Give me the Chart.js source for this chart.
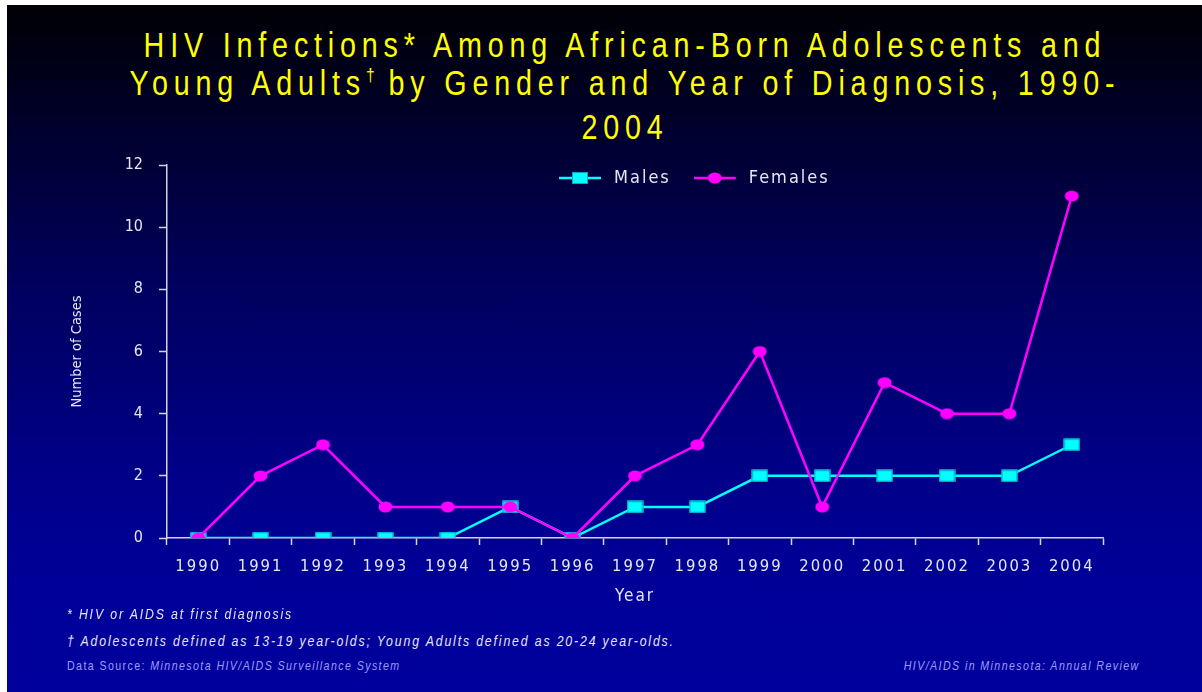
<html>

<head>
    <title>HIV Infections Among African-Born Adolescents and Young Adults</title>
    <script src="https://cdn.jsdelivr.net/npm/chart.js"></script>
    <style>
        body { margin: 0; background: #ffffff; }
        #slide {
            position: absolute; left: 7px; top: 5px; width: 1195px; height: 687px; overflow: hidden;
            background: linear-gradient(to bottom, #000004 0%, #00002c 18%, #000060 42%, #000088 68%, #000099 85%, #00009c 100%);
            font-family: 'Liberation Sans', Arial, sans-serif;
        }
        /* Arial Narrow look: Liberation Sans squeezed to 82% */
        #title {
            position: absolute; left: -32px; top: 21px; width: 1300px; white-space: nowrap;
            text-align: center; color: #ffff00; font-size: 35px; line-height: 38px; letter-spacing: 7.1px;
            transform: scaleX(0.82); transform-origin: 50% 0;
        }
        #title sup { font-size: 55%; vertical-align: 0; position: relative; top: -14px; letter-spacing: 0; }
        #chartBox { position: absolute; left: 0; top: 97px; width: 1195px; height: 518px; }
        .note {
            position: absolute; left: 60px; color: #e6e6f5; font-style: italic; font-size: 15px; line-height: 15px;
            letter-spacing: 2.25px; white-space: nowrap; transform: scaleX(0.82); transform-origin: 0 0;
        }
        .src {
            position: absolute; top: 655px; color: #9c9cff; font-size: 13px; line-height: 12px; letter-spacing: 1.7px;
            white-space: nowrap; transform: scaleX(0.82);
        }
    </style>
</head>

<body>
    <div id="slide">
        <div id="title">HIV Infections* Among African-Born Adolescents and<br>Young Adults<sup>†</sup> by Gender and Year of Diagnosis, 1990-<br>2004</div>
        <div id="chartBox">
            <canvas id="myChart"></canvas>
        </div>
        <div class="note" style="top:601px">* HIV or AIDS at first diagnosis</div>
        <div class="note" style="top:628px">† Adolescents defined as 13-19 year-olds; Young Adults defined as 20-24 year-olds.</div>
        <div class="src" style="left:60px; transform-origin:0 0">Data Source: <i>Minnesota HIV/AIDS Surveillance System</i></div>
        <div class="src" style="right:62px; transform-origin:100% 0"><i>HIV/AIDS in Minnesota: Annual Review</i></div>
    </div>

    <script>
        // data
        const years = ['1990', '1991', '1992', '1993', '1994', '1995', '1996', '1997',
            '1998', '1999', '2000', '2001', '2002', '2003', '2004'];
        const males = [0, 0, 0, 0, 0, 1, 0, 1, 1, 2, 2, 2, 2, 2, 3];
        const females = [0, 2, 3, 1, 1, 1, 0, 2, 3, 6, 1, 5, 4, 4, 11];
        const yTicks = [0, 2, 4, 6, 8, 10, 12];

        const CYAN = '#00ffff';
        const MAGENTA = '#ff00ff';
        const AXIS = '#d4d4e4';
        const TEXT = '#e6e6f2';
        const FONT = "'DejaVu Sans Condensed', 'DejaVu Sans', sans-serif";

        function makeCanvas(w, h, paint) {
            const c = document.createElement('canvas');
            c.width = w;
            c.height = h;
            paint(c.getContext('2d'), w, h);
            return c;
        }

        function paintSquare(ctx, cx, cy) {
            ctx.fillStyle = CYAN;
            ctx.fillRect(cx - 8, cy - 6, 16, 12);
            ctx.strokeStyle = '#00a8b8';
            ctx.lineWidth = 1;
            ctx.strokeRect(cx - 7.5, cy - 5.5, 15, 11);
        }

        function paintEllipse(ctx, cx, cy) {
            ctx.fillStyle = MAGENTA;
            ctx.beginPath();
            ctx.ellipse(cx, cy, 7, 5.5, 0, 0, Math.PI * 2);
            ctx.fill();
        }

        const squareMark = makeCanvas(17, 13, (ctx) => paintSquare(ctx, 8.5, 6.5));
        const ellipseMark = makeCanvas(15, 12, (ctx) => paintEllipse(ctx, 7.5, 6));

        // legend swatches: line with the marker in the middle
        function legendSwatch(color, paint) {
            return makeCanvas(46, 14, (ctx) => {
                ctx.strokeStyle = color;
                ctx.lineWidth = 2.5;
                ctx.beginPath();
                ctx.moveTo(0, 7);
                ctx.lineTo(42, 7);
                ctx.stroke();
                paint(ctx, 21, 7);
            });
        }
        const malesSwatch = legendSwatch(CYAN, paintSquare);
        const femalesSwatch = legendSwatch(MAGENTA, paintEllipse);

        // spaced-out lettering for x labels and legend; y axis (z 1) is drawn after datasets without it
        const spacedText = {
            id: 'spacedText',
            beforeLayout(chart) { chart.ctx.letterSpacing = '2px'; },
            afterLayout(chart) {
                const lg = chart.legend;
                const w = lg.right - lg.left;
                const h = lg.bottom - lg.top;
                lg.left = 529;
                lg.right = 529 + w;
                lg.top = 44;
                lg.bottom = 44 + h;
            },
            beforeDraw(chart) { chart.ctx.letterSpacing = '2px'; },
            beforeDatasetsDraw(chart) { chart.ctx.letterSpacing = '0px'; }
        };

        const data = {
            labels: years,
            datasets: [
                {
                    label: 'Males',
                    data: males,
                    borderColor: CYAN,
                    backgroundColor: CYAN,
                    borderWidth: 2.5,
                    pointStyle: squareMark,
                    pointRadius: 7,
                    order: 1
                },
                {
                    label: 'Females',
                    data: females,
                    borderColor: MAGENTA,
                    backgroundColor: MAGENTA,
                    borderWidth: 2.5,
                    pointStyle: ellipseMark,
                    pointRadius: 7,
                    order: 0
                }
            ]
        };

        const config = {
            type: 'line',
            data: data,
            options: {
                responsive: true,
                maintainAspectRatio: false,
                animation: false,
                layout: { padding: { left: 0, right: 99, top: 12, bottom: 0 } },
                scales: {
                    x: {
                        offset: true,
                        grid: { offset: true, drawOnChartArea: false, drawTicks: true, tickLength: 7, tickColor: AXIS, tickWidth: 1.5 },
                        border: { color: AXIS, width: 1.5 },
                        ticks: { color: TEXT, font: { family: FONT, size: 16.5 }, padding: 12, autoSkip: false, maxRotation: 0 },
                        title: { display: true, text: 'Year', color: TEXT, font: { family: FONT, size: 17 }, padding: { top: 0, bottom: 13 } },
                        afterFit: (scale) => { scale.height = 82; }
                    },
                    y: {
                        min: 0,
                        max: 12,
                        afterBuildTicks: (scale) => { scale.ticks = yTicks.map((v) => ({ value: v })); },
                        grid: { z: 1, drawOnChartArea: false, drawTicks: true, tickLength: 8, tickColor: AXIS, tickWidth: 1.5 },
                        border: { z: 1, color: AXIS, width: 1.5 },
                        ticks: { z: 1, color: TEXT, font: { family: FONT, size: 16 }, padding: 16 },
                        title: { display: true, text: 'Number of Cases', color: TEXT, font: { family: FONT, size: 14.5 }, padding: { top: 62, bottom: 0 } },
                        afterFit: (scale) => { scale.width = 160; }
                    }
                },
                plugins: {
                    title: { display: false },
                    tooltip: { enabled: false },
                    legend: {
                        position: 'top',
                        align: 'start',
                        fullSize: false,
                        labels: {
                            usePointStyle: true,
                            pointStyleWidth: 46,
                            padding: 23,
                            color: TEXT,
                            font: { family: FONT, size: 18 },
                            generateLabels: () => [
                                { text: 'Males', pointStyle: malesSwatch, fontColor: TEXT, lineWidth: 0, hidden: false, datasetIndex: 0 },
                                { text: 'Females', pointStyle: femalesSwatch, fontColor: TEXT, lineWidth: 0, hidden: false, datasetIndex: 1 }
                            ]
                        }
                    }
                }
            },
            plugins: [spacedText]
        };
    </script>

    <script>
        const myChart = new Chart(
            document.getElementById('myChart'),
            config
        );
    </script>

</body>

</html>
